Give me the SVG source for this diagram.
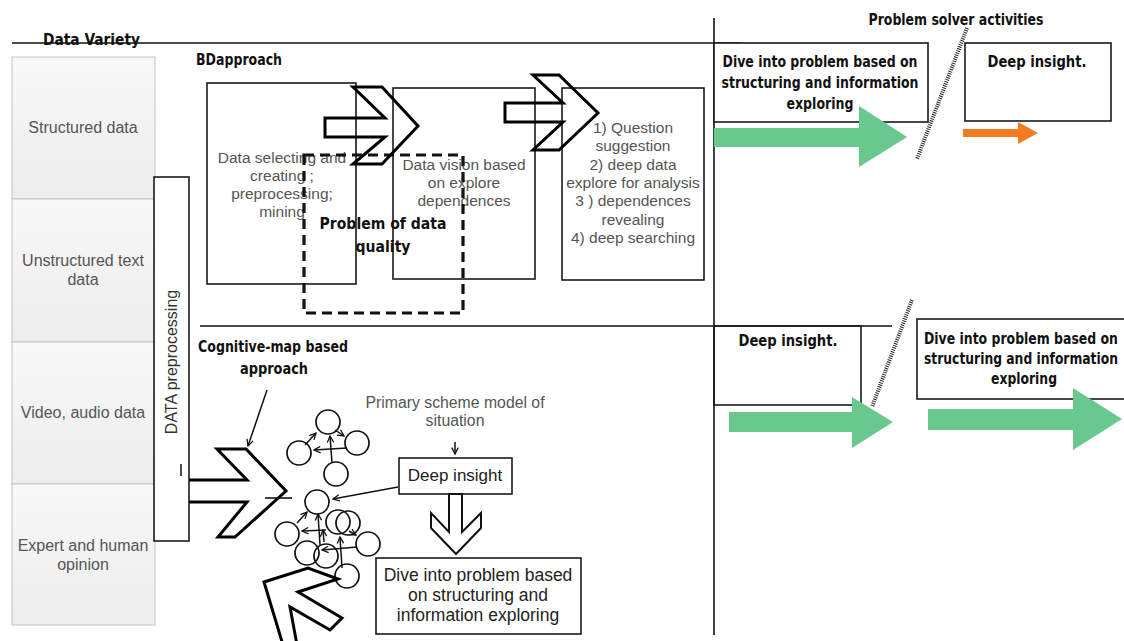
<svg xmlns="http://www.w3.org/2000/svg" width="1124" height="641" viewBox="0 0 1124 641">
  <defs>
    <linearGradient id="cellFill" x1="0" y1="0" x2="0" y2="1">
      <stop offset="0" stop-color="#f8f8f8"/>
      <stop offset="1" stop-color="#ededed"/>
    </linearGradient>
    <marker id="tip" viewBox="0 0 10 10" refX="9" refY="5" markerWidth="8" markerHeight="8" orient="auto" markerUnits="userSpaceOnUse">
      <path d="M1,1 L9,5 L1,9" fill="none" stroke="#111" stroke-width="1.6"/>
    </marker>
  </defs>
  <style>
    .lbl{font-family:"Liberation Sans",Arial,sans-serif;fill:#555;font-size:15.5px;text-anchor:middle}
    .col{font-family:"Liberation Sans",Arial,sans-serif;fill:#555;font-size:16px;text-anchor:middle}
    .dark{font-family:"Liberation Sans",Arial,sans-serif;fill:#222;font-size:17.5px;text-anchor:middle}
    .hd{font-family:"Liberation Sans Narrow","DejaVu Sans Condensed","Liberation Sans",sans-serif;font-weight:bold;fill:#111;font-size:15px}
    .hdc{font-family:"Liberation Sans Narrow","DejaVu Sans Condensed","Liberation Sans",sans-serif;font-weight:bold;fill:#111;font-size:15px;text-anchor:middle}
    .cell{fill:url(#cellFill);stroke:#c4c4c4;stroke-width:1}
    .box{fill:#fff;stroke:#1a1a1a;stroke-width:1.6}
    .boxo{fill:none;stroke:#1a1a1a;stroke-width:1.6}
    .rule{stroke:#111;stroke-width:1.6;fill:none}
    .chev{fill:none;stroke:#000;stroke-width:3;stroke-linejoin:miter}
    .green{fill:#68c88e}
    .orange{fill:#f47b20}
    .dots{stroke:#222;stroke-width:4;stroke-dasharray:1 1.2;fill:none}
    .dash{fill:none;stroke:#111;stroke-width:3.2;stroke-dasharray:10 6}
    .node{fill:none;stroke:#111;stroke-width:1.7}
    .thin{stroke:#111;stroke-width:1.5;fill:none;marker-end:url(#tip)}
  </style>

  <rect width="1124" height="641" fill="#fff"/>

  <!-- frame rules -->
  <g id="rules">
    <line class="rule" x1="12" y1="43" x2="740" y2="43"/>
    <line class="rule" x1="714" y1="18" x2="714" y2="635"/>
    <line class="rule" x1="200" y1="326" x2="892" y2="326"/>
    <line class="dots" x1="967" y1="28" x2="917" y2="159"/>
    <line class="dots" x1="912" y1="300" x2="872" y2="407"/>
  </g>

  <!-- data variety column -->
  <g id="data-variety">
    <text class="hd" x="43" y="45" textLength="97" lengthAdjust="spacingAndGlyphs">Data Variety</text>
  </g>
  <g id="structured">
    <rect class="cell" x="12" y="57" width="143" height="142"/>
    <text class="col" x="83" y="133">Structured data</text>
  </g>
  <g id="unstructured">
    <rect class="cell" x="12" y="199" width="143" height="143"/>
    <text class="col" x="83" y="266">Unstructured text</text>
    <text class="col" x="83" y="285">data</text>
  </g>
  <g id="video-audio">
    <rect class="cell" x="12" y="342" width="143" height="142"/>
    <text class="col" x="83" y="418">Video, audio data</text>
  </g>
  <g id="expert">
    <rect class="cell" x="12" y="484" width="143" height="141"/>
    <text class="col" x="83" y="551">Expert and human</text>
    <text class="col" x="83" y="570">opinion</text>
  </g>

  <!-- preprocessing bar -->
  <g id="preprocessing">
    <rect class="box" x="154" y="177" width="35" height="364"/>
    <text class="col" transform="translate(177 362) rotate(-90)" x="0" y="0" style="fill:#333">DATA preprocessing</text>
    <line x1="181" y1="464" x2="181" y2="476" stroke="#111" stroke-width="1.5"/>
  </g>

  <!-- BD approach -->
  <g id="bd-approach">
    <text class="hd" x="196" y="65" textLength="86" lengthAdjust="spacingAndGlyphs">BDapproach</text>
  </g>
  <g id="bd-select">
    <rect class="boxo" x="207" y="83" width="149" height="201"/>
    <text class="lbl" x="282" y="163">Data selecting and</text>
    <text class="lbl" x="282" y="181">creating  ;</text>
    <text class="lbl" x="282" y="199">preprocessing;</text>
    <text class="lbl" x="282" y="217">mining</text>
  </g>
  <g id="bd-vision">
    <rect class="boxo" x="393" y="88" width="142" height="191"/>
    <text class="lbl" x="464" y="170">Data vision based</text>
    <text class="lbl" x="464" y="188">on explore</text>
    <text class="lbl" x="464" y="206">dependences</text>
  </g>
  <g id="bd-questions">
    <rect class="boxo" x="562" y="88" width="142" height="192"/>
    <text class="lbl" x="633" y="133">1) Question</text>
    <text class="lbl" x="633" y="151">suggestion</text>
    <text class="lbl" x="633" y="170">2) deep data</text>
    <text class="lbl" x="633" y="188">explore for analysis</text>
    <text class="lbl" x="633" y="206"> 3 ) dependences</text>
    <text class="lbl" x="633" y="225">revealing</text>
    <text class="lbl" x="633" y="243">4) deep searching</text>
  </g>
  <g id="data-quality">
    <rect class="dash" x="304" y="155" width="159" height="158"/>
    <text class="hdc" x="383" y="229" textLength="127" lengthAdjust="spacingAndGlyphs">Problem of data</text>
    <text class="hdc" x="383" y="252" textLength="55" lengthAdjust="spacingAndGlyphs">quality</text>
  </g>

  <!-- problem solver activities -->
  <g id="solver-title">
    <text class="hdc" x="956" y="25" textLength="175" lengthAdjust="spacingAndGlyphs">Problem solver activities</text>
  </g>
  <g id="dive-top">
    <rect class="box" x="714" y="43" width="214" height="79"/>
    <text class="hdc" x="820" y="67" textLength="195" lengthAdjust="spacingAndGlyphs">Dive into problem based on</text>
    <text class="hdc" x="820" y="88" textLength="197" lengthAdjust="spacingAndGlyphs">structuring and information</text>
    <text class="hdc" x="820" y="109" textLength="67" lengthAdjust="spacingAndGlyphs">exploring</text>
  </g>
  <g id="insight-top">
    <rect class="box" x="965" y="43" width="146" height="78"/>
    <text class="hdc" x="1037" y="67" textLength="99" lengthAdjust="spacingAndGlyphs">Deep  insight.</text>
  </g>
  <g id="insight-mid">
    <rect class="boxo" x="714" y="326" width="147" height="79"/>
    <text class="hdc" x="788" y="346" textLength="99" lengthAdjust="spacingAndGlyphs">Deep  insight.</text>
  </g>
  <g id="dive-mid">
    <rect class="box" x="917" y="319" width="215" height="80"/>
    <text class="hdc" x="1021" y="344" textLength="194" lengthAdjust="spacingAndGlyphs">Dive into problem based on</text>
    <text class="hdc" x="1021" y="364" textLength="194" lengthAdjust="spacingAndGlyphs">structuring and information</text>
    <text class="hdc" x="1024" y="384" textLength="66" lengthAdjust="spacingAndGlyphs">exploring</text>
  </g>

  <!-- cognitive map approach -->
  <g id="cognitive-title">
    <text class="hdc" x="273" y="352" textLength="150" lengthAdjust="spacingAndGlyphs">Cognitive-map based</text>
    <text class="hdc" x="274" y="374" textLength="68" lengthAdjust="spacingAndGlyphs">approach</text>
  </g>
  <g id="scheme-label">
    <text class="lbl" x="455" y="408" style="font-size:15.8px">Primary scheme model of</text>
    <text class="lbl" x="455" y="426" style="font-size:15.8px">situation</text>
  </g>
  <g id="insight-low">
    <rect class="box" x="399" y="458" width="113" height="36"/>
    <text class="dark" x="455" y="481" style="font-size:17px">Deep  insight</text>
  </g>
  <g id="dive-low">
    <rect class="box" x="376" y="558" width="205" height="76"/>
    <text class="dark" x="478" y="581">Dive into problem based</text>
    <text class="dark" x="478" y="601">on structuring and</text>
    <text class="dark" x="478" y="621">information exploring</text>
  </g>
  <g id="cognitive-map">
    <circle class="node" cx="328" cy="422" r="12"/>
    <circle class="node" cx="299" cy="453" r="12"/>
    <circle class="node" cx="357" cy="443" r="12"/>
    <circle class="node" cx="336" cy="474" r="12"/>
    <circle class="node" cx="317" cy="502" r="12"/>
    <circle class="node" cx="338" cy="522" r="12"/>
    <circle class="node" cx="348" cy="523" r="12"/>
    <circle class="node" cx="287" cy="534" r="12"/>
    <circle class="node" cx="368" cy="544" r="12"/>
    <circle class="node" cx="307" cy="553" r="12"/>
    <circle class="node" cx="326" cy="556" r="12"/>
    <circle class="node" cx="347" cy="576" r="12"/>
  </g>

  <!-- connectors -->
  <g id="connectors">
    <!-- chevron arrows of the BD chain -->
    <polygon class="chev" points="325,118 385,118 353,87 382,87 418,126 382,164 353,164 385,137 325,137"/>
    <polygon class="chev" points="505,103 563,103 533,75 559,75 598,113 559,150 533,150 563,122 505,122"/>
    <!-- chevron from preprocessing into the cognitive map -->
    <polyline class="chev" points="189,480 247,480 217,449 246,449 286,491 235,537 218,537 247,502 189,502"/>
    <line x1="265" y1="498" x2="292" y2="498" stroke="#111" stroke-width="1.6"/>
    <!-- down arrow from Deep insight -->
    <polygon points="449,494 449,532 431,513 431,528 456,554 481,528 481,513 462,532 462,494" fill="#fff" stroke="#111" stroke-width="2"/>
    <!-- block arrow entering the map from below -->
    <polygon class="chev" points="264,582 308,568 338,579 298,592 342,618 330,630 290,607 297,645 283,645"/>
    <!-- thin pointers -->
    <line class="thin" x1="267" y1="390" x2="248" y2="446"/>
    <line class="thin" x1="398" y1="487" x2="333" y2="499"/>
    <line class="thin" x1="455" y1="442" x2="455" y2="454"/>
    <!-- links inside the map -->
    <line class="thin" x1="305" y1="445" x2="316" y2="433"/>
    <line class="thin" x1="335" y1="430" x2="344" y2="436"/>
    <line class="thin" x1="332" y1="463" x2="330" y2="436"/>
    <line class="thin" x1="347" y1="448" x2="314" y2="450"/>
    <line class="thin" x1="297" y1="523" x2="307" y2="512"/>
    <line class="thin" x1="326" y1="530" x2="302" y2="531"/>
    <line class="thin" x1="320" y1="545" x2="318" y2="514"/>
    <line class="thin" x1="324" y1="542" x2="323" y2="530"/>
    <line class="thin" x1="349" y1="531" x2="356" y2="535"/>
    <line class="thin" x1="357" y1="547" x2="322" y2="550"/>
    <line class="thin" x1="342" y1="568" x2="340" y2="537"/>
    <!-- flow arrows of the solver activities -->
    <polygon class="green" points="714,128 859,128 859,106 907,137 859,167 859,147 714,147"/>
    <polygon class="orange" points="963,129 1018,129 1018,122 1038,133 1018,144 1018,137 963,137"/>
    <polygon class="green" points="729,412 852,412 852,397 893,422 852,448 852,432 729,432"/>
    <polygon class="green" points="928,409 1073,409 1073,388 1122,419 1073,450 1073,430 928,430"/>
  </g>
</svg>
